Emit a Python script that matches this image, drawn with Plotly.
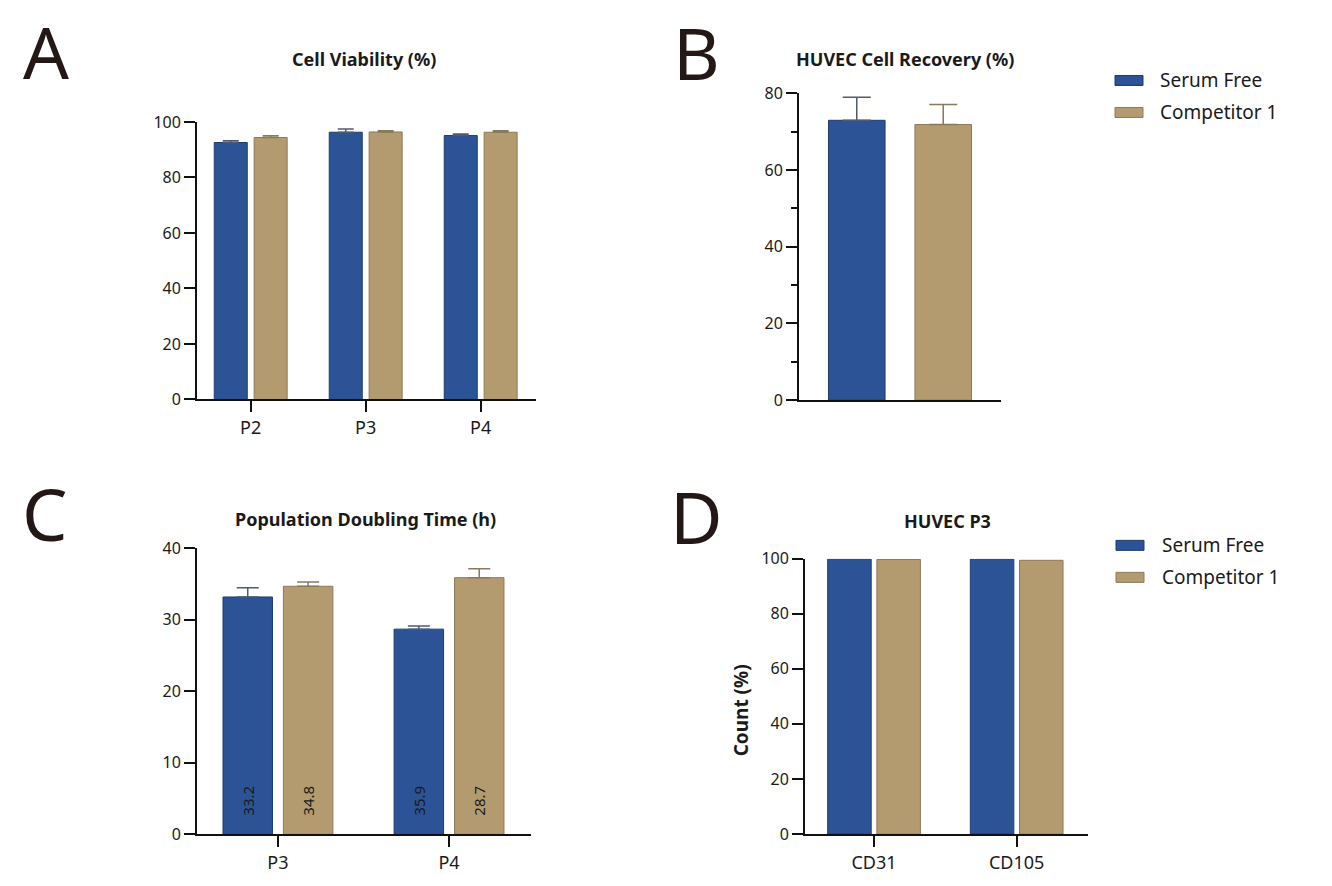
import plotly.graph_objects as go

# ---------------- data ----------------
series_names = ["Serum Free", "Competitor 1"]

# A: Cell Viability (%)
viability_categories = ["P2", "P3", "P4"]
viability_serum_free = [92.6, 96.3, 95.1]
viability_serum_free_err = [0.6, 1.2, 0.6]
viability_competitor = [94.4, 96.4, 96.3]
viability_competitor_err = [0.6, 0.4, 0.5]

# B: HUVEC Cell Recovery (%)
recovery_categories = ["HUVEC"]
recovery_serum_free = [73.0]
recovery_serum_free_err = [6.0]
recovery_competitor = [71.9]
recovery_competitor_err = [5.2]

# C: Population Doubling Time (h)
pdt_categories = ["P3", "P4"]
pdt_serum_free = [33.2, 28.7]
pdt_serum_free_err = [1.3, 0.45]
pdt_competitor = [34.7, 35.9]
pdt_competitor_err = [0.6, 1.25]
pdt_labels_serum_free = ["33.2", "35.9"]
pdt_labels_competitor = ["34.8", "28.7"]

# D: HUVEC P3 markers
marker_categories = ["CD31", "CD105"]
marker_serum_free = [99.8, 99.8]
marker_competitor = [99.7, 99.4]

# ---------------- style ----------------
W, H = 1332, 886
FONT = "Noto Sans"
BLUE, BLUE_LINE, BLUE_ERR = "#2C5396", "#1E3B70", "#4E5B72"
TAN, TAN_LINE, TAN_ERR = "#B39B6F", "#8C7A58", "#8A7A5C"
INK = "#1a1a1a"
AXIS = "#111111"

# vertical placement correction observed in the photographed page
V_OFF, V_SCALE = 11.5, 0.9754


def px(x):
    return x / W


def py(y):
    yf = (y - V_OFF) / V_SCALE
    return 1 - yf / H


fig = go.Figure()


def add_pair(xa, ya, cats, sf, c1, sf_err=None, c1_err=None, width=0.29, half_gap=0.03,
             err_w=8, sf_text=None, c1_text=None):
    for vals, err, color, line, ecol, off, txt in [
        (sf, sf_err, BLUE, BLUE_LINE, BLUE_ERR, -(half_gap + width), sf_text),
        (c1, c1_err, TAN, TAN_LINE, TAN_ERR, half_gap, c1_text),
    ]:
        kw = {}
        if err is not None:
            kw["error_y"] = dict(type="data", array=err, arrayminus=[0] * len(err),
                                 symmetric=False, color=ecol, thickness=1.5, width=err_w)
        if txt is not None:
            kw.update(text=["\u00a0\u00a0\u00a0\u00a0" + t for t in txt], textposition="inside",
                      insidetextanchor="start", textangle=-90,
                      insidetextfont=dict(family=FONT, size=15, color=INK),
                      constraintext="none")
        fig.add_trace(go.Bar(x=cats, y=vals, xaxis=xa, yaxis=ya, width=width, offset=off,
                             marker=dict(color=color, line=dict(color=line, width=1)),
                             showlegend=False, hoverinfo="x+y", **kw))


add_pair("x", "y", viability_categories, viability_serum_free, viability_competitor,
         viability_serum_free_err, viability_competitor_err, width=0.287, half_gap=0.030, err_w=8)
add_pair("x2", "y2", recovery_categories, recovery_serum_free, recovery_competitor,
         recovery_serum_free_err, recovery_competitor_err, width=0.280, half_gap=0.074, err_w=14)
add_pair("x3", "y3", pdt_categories, pdt_serum_free, pdt_competitor,
         pdt_serum_free_err, pdt_competitor_err, width=0.289, half_gap=0.032, err_w=11,
         sf_text=pdt_labels_serum_free, c1_text=pdt_labels_competitor)
add_pair("x4", "y4", marker_categories, marker_serum_free, marker_competitor,
         width=0.305, half_gap=0.020)

axis_common = dict(showline=True, linecolor=AXIS, linewidth=1.8, showgrid=False, zeroline=False,
                   ticks="outside", ticklen=11, tickwidth=1.8, tickcolor=AXIS)
xfont = dict(tickfont=dict(family=FONT, size=18, color=INK))
yfont = dict(tickfont=dict(family=FONT, size=16, color=INK))

fig.update_layout(
    width=W, height=H, margin=dict(l=0, r=0, t=0, b=0),
    paper_bgcolor="white", plot_bgcolor="white", barmode="overlay", showlegend=False,
    font=dict(family=FONT, color=INK),
    xaxis=dict(domain=[px(197), px(536)], anchor="y", type="category",
               range=[-0.467, 2.481], **axis_common, **xfont),
    yaxis=dict(domain=[py(400), py(122.5)], anchor="x", range=[0, 100], dtick=20,
               **axis_common, **yfont),
    xaxis2=dict(domain=[px(799), px(1001)], anchor="y2", type="category", range=[-0.5, 0.5],
                **{**axis_common, "ticks": "", "showticklabels": False}),
    yaxis2=dict(domain=[py(400.7), py(94)], anchor="x2", range=[0, 80], dtick=20,
                minor=dict(ticks="outside", ticklen=6, dtick=10, tickwidth=1.5, tickcolor=AXIS),
                **axis_common, **yfont),
    xaxis3=dict(domain=[px(197), px(531)], anchor="y3", type="category",
                range=[-0.473, 1.479], **axis_common, **xfont),
    yaxis3=dict(domain=[py(835), py(549)], anchor="x3", range=[0, 40], dtick=10,
                **axis_common, **yfont),
    xaxis4=dict(domain=[px(805), px(1088)], anchor="y4", type="category",
                range=[-0.484, 1.5], **axis_common, **xfont),
    yaxis4=dict(domain=[py(834.7), py(559.3)], anchor="x4", range=[0, 100], dtick=20,
                **axis_common, **yfont),
)

annotations = []
# panel letters
for letter, x, y in [("A", 45.5, 51.5), ("B", 696, 52.5), ("C", 45, 514), ("D", 697, 517)]:
    annotations.append(dict(text=letter, x=px(x), y=py(y), xref="paper", yref="paper",
                            xanchor="center", yanchor="middle", showarrow=False,
                            font=dict(family=FONT, size=72, color="#231815")))
# panel titles
for title, x, y in [("Cell Viability (%)", 364, 60), ("HUVEC Cell Recovery (%)", 905, 60),
                    ("Population Doubling Time (h)", 365, 520), ("HUVEC P3", 947, 522)]:
    annotations.append(dict(text="<b>" + title + "</b>", x=px(x), y=py(y), xref="paper",
                            yref="paper", xanchor="center", yanchor="middle", showarrow=False,
                            font=dict(family=FONT, size=18, color=INK)))
# y-axis title of panel D
annotations.append(dict(text="<b>Count (%)</b>", x=px(741), y=py(711), xref="paper",
                        yref="paper", xanchor="center", yanchor="middle", showarrow=False,
                        textangle=-90, font=dict(family=FONT, size=19, color=INK)))

# manual legends (B and D)
shapes = []
for (lx, tx, y1, y2) in [(1115, 1158, 81, 113), (1116, 1160, 546, 578)]:
    for name, yc, col, lc in [(series_names[0], y1, BLUE, BLUE_LINE),
                              (series_names[1], y2, TAN, TAN_LINE)]:
        shapes.append(dict(type="rect", xref="paper", yref="paper", x0=px(lx), x1=px(lx + 28),
                           y0=py(yc + 5), y1=py(yc - 5), fillcolor=col,
                           line=dict(color=lc, width=1)))
        annotations.append(dict(text=name, x=px(tx), y=py(yc), xref="paper", yref="paper",
                                xanchor="left", yanchor="middle", showarrow=False,
                                font=dict(family=FONT, size=19, color=INK)))

fig.update_layout(annotations=annotations, shapes=shapes)

fig.write_html("out.html", config={"displayModeBar": False},
               post_script="document.body.style.margin='0';")
